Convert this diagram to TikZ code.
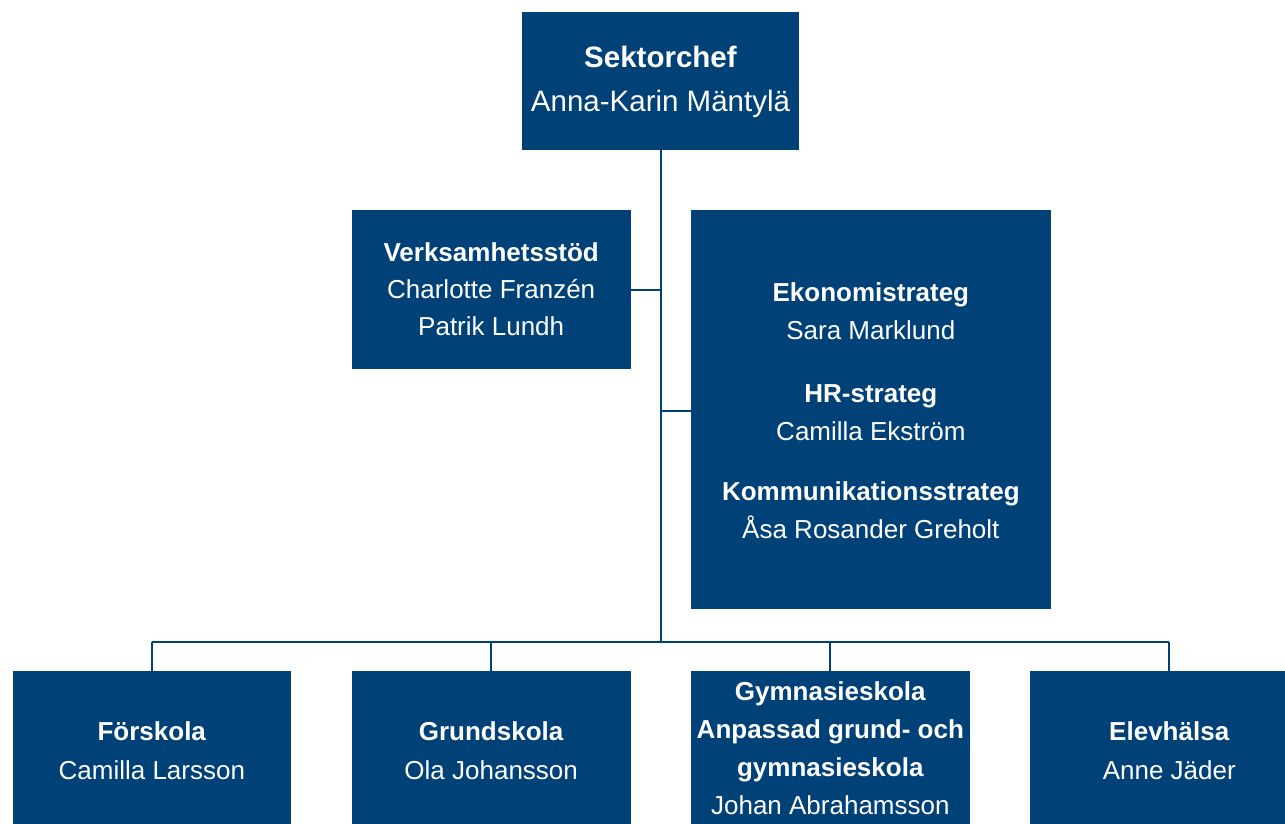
\documentclass[tikz,border=0pt]{standalone}
\usepackage{fontspec}
\setmainfont{Liberation Sans}
\definecolor{orgblue}{HTML}{004178}
\tikzset{
  orgbox/.style={fill=orgblue, draw=none, inner sep=0pt, rectangle},
  orgtxt/.style={text=white, align=center, inner sep=0pt, anchor=base, font=\fontsize{26}{38}\selectfont},
  conn/.style={draw=orgblue, line width=2pt}
}
\begin{document}
\begin{tikzpicture}[x=1pt,y=-1pt]
\useasboundingbox (0,0) rectangle (1285,823);
\clip (0,0) rectangle (1285,823);
% boxes
\node[orgbox, minimum width=277.6pt, minimum height=137.7pt] (sek) at (660.5,81.15) {};
\node[orgbox, minimum width=279pt, minimum height=159.3pt] (verk) at (491.2,289.65) {};
\node[orgbox, minimum width=360.3pt, minimum height=399.3pt] (strat) at (870.85,409.65) {};
\node[orgbox, minimum width=278.3pt, minimum height=170pt] (fors) at (151.85,756) {};
\node[orgbox, minimum width=279pt, minimum height=170pt] (grund) at (491.2,756) {};
\node[orgbox, minimum width=279.3pt, minimum height=170pt] (gymn) at (830.35,756) {};
\node[orgbox, minimum width=278.6pt, minimum height=170pt] (elev) at (1169.3,756) {};
% texts (anchor=base is the baseline of the last line)
\node[orgtxt, font=\fontsize{29.5}{43.3}\selectfont] (sekt) at (660.5,111) {\textbf{Sektorchef}\\Anna-Karin Mäntylä};
\node[orgtxt, font=\fontsize{26}{37}\selectfont] (verkt) at (491.2,335) {\textbf{Verksamhetsstöd}\\Charlotte Franzén\\Patrik Lundh};
\node[orgtxt] (stratt) at (870.85,538.5) {\textbf{Ekonomistrateg}\\Sara Marklund\\[25pt]\textbf{HR-strateg}\\Camilla Ekström\\[22pt]\textbf{Kommunikationsstrateg}\\Åsa Rosander Greholt};
\node[orgtxt, font=\fontsize{26}{39}\selectfont] (forst) at (151.85,779) {\textbf{Förskola}\\Camilla Larsson};
\node[orgtxt, font=\fontsize{26}{39}\selectfont] (grundt) at (491.2,779) {\textbf{Grundskola}\\Ola Johansson};
\node[orgtxt, font=\fontsize{26}{37.8}\selectfont] (gymnt) at (830.35,814) {\textbf{Gymnasieskola}\\\textbf{Anpassad grund- och}\\\textbf{gymnasieskola}\\Johan Abrahamsson};
\node[orgtxt, font=\fontsize{26}{39}\selectfont] (elevt) at (1169.3,779) {\textbf{Elevhälsa}\\Anne Jäder};
% connectors
\coordinate (bus) at (660.5,641.7);
\coordinate (bverk) at (660.5,290);
\coordinate (bstrat) at (660.5,411);
\draw[conn] (sek.south) -- (bus);
\draw[conn] (bverk) -- (bverk -| verk.east);
\draw[conn] (bstrat) -- (bstrat -| strat.west);
\draw[conn] (bus -| fors.north) -- (bus -| elev.north);
\draw[conn] (bus -| fors.north) -- (fors.north);
\draw[conn] (bus -| grund.north) -- (grund.north);
\draw[conn] (bus -| gymn.north) -- (gymn.north);
\draw[conn] (bus -| elev.north) -- (elev.north);
\end{tikzpicture}
\end{document}
